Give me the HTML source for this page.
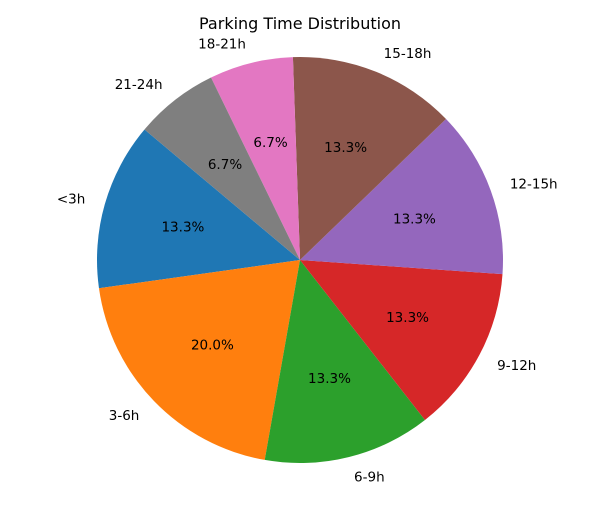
<!DOCTYPE html>
<html><head><meta charset="utf-8"><style>
body{margin:0;background:#fff;}
svg text{font-family:"DejaVu Sans","Liberation Sans",sans-serif;}
</style></head><body>
<svg id="chart" width="600" height="500" xmlns="http://www.w3.org/2000/svg">
<text x="300" y="29" text-anchor="middle" font-size="16">Parking Time Distribution</text>
<g id="slices"></g>
</svg>
<script>
const categories=["<3h","3-6h","6-9h","9-12h","12-15h","15-18h","18-21h","21-24h"];
const values=[2,3,2,2,2,2,1,1];
const colors=["#1f77b4","#ff7f0e","#2ca02c","#d62728","#9467bd","#8c564b","#e377c2","#7f7f7f"];
const cx=300,cy=260,r=203,start=140;
const g=document.getElementById('slices');
const ns="http://www.w3.org/2000/svg";
const total=values.reduce((a,b)=>a+b,0);
let a0=start;
function pt(a,rr){const t=a*Math.PI/180;return [cx+rr*Math.cos(t),cy-rr*Math.sin(t)];}
values.forEach((v,i)=>{
  const a1=a0+v/total*360;
  const p0=pt(a0,r),p1=pt(a1,r);
  const large=(a1-a0)>180?1:0;
  const path=document.createElementNS(ns,'path');
  path.setAttribute('d',`M${cx},${cy} L${p0[0]},${p0[1]} A${r},${r} 0 ${large} 0 ${p1[0]},${p1[1]} Z`);
  path.setAttribute('fill',colors[i]);
  
  
  g.appendChild(path);
  const mid=(a0+a1)/2;
  const lp=pt(mid,r*1.1);
  const lab=document.createElementNS(ns,'text');
  lab.setAttribute('x',lp[0]);lab.setAttribute('y',lp[1]+5);
  lab.setAttribute('font-size','13.5');
  lab.setAttribute('text-anchor',lp[0]>=cx?'start':'end');
  lab.textContent=categories[i];
  
  
  g.appendChild(lab);
  const pp=pt(mid,r*0.6);
  const pct=document.createElementNS(ns,'text');
  pct.setAttribute('x',pp[0]);pct.setAttribute('y',pp[1]+5);
  pct.setAttribute('font-size','13.5');
  pct.setAttribute('text-anchor','middle');
  pct.textContent=(v/total*100).toFixed(1)+'%';
  
  
  g.appendChild(pct);
  a0=a1;
});
</script>
</body></html>
